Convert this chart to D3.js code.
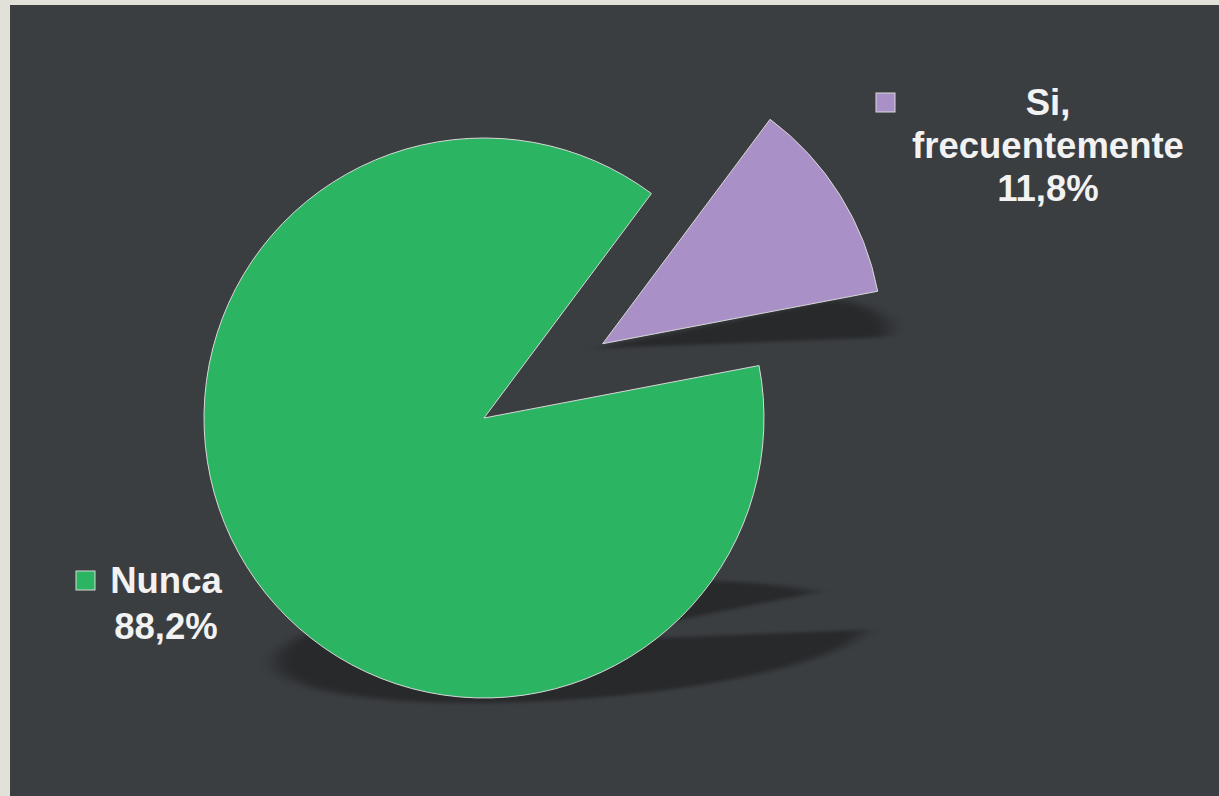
<!DOCTYPE html>
<html><head><meta charset="utf-8">
<script src="https://cdn.jsdelivr.net/npm/d3@7"></script>
<style>
html,body{margin:0;padding:0;background:#e1e1da;}
svg{display:block;}
</style></head>
<body>
<svg id="chart" width="1219" height="796"></svg>
<script>
const categories = ["Nunca", "Si, frecuentemente"];
const values = [88.2, 11.8];
const labelLines = [["Nunca"], ["Si,", "frecuentemente"]];
const colors = ["#2bb461", "#a991c8"];
const exploded = [0, 1];

const W = 1219, H = 796;
const svg = d3.select("#chart");
svg.append("rect").attr("x", 10).attr("y", 5).attr("width", W - 10).attr("height", H - 5).attr("fill", "#3b3e41");

const defs = svg.append("defs");
defs.append("filter").attr("id", "blur").attr("x", "-30%").attr("y", "-30%").attr("width", "160%").attr("height", "160%")
  .append("feGaussianBlur").attr("stdDeviation", 9);

const cx = 484, cy = 418, R = 280, explodeDist = 140;
const deg = Math.PI / 180;
const start = 79.2 * deg;
const pie = d3.pie().sort(null).startAngle(start).endAngle(start + 2 * Math.PI);
const arcs = pie(values);
const arc = d3.arc().innerRadius(0).outerRadius(R);

const shadowLayer = svg.append("g");
const sliceLayer = svg.append("g");

arcs.forEach((a, i) => {
  const mid = (a.startAngle + a.endAngle) / 2;
  const ox = exploded[i] ? Math.sin(mid) * explodeDist : 0;
  const oy = exploded[i] ? -Math.cos(mid) * explodeDist : 0;
  const tx = cx + ox, ty = cy + oy;
  const p = sliceLayer.append("path")
    .attr("d", arc(a))
    .attr("transform", `translate(${tx},${ty})`)
    .attr("fill", colors[i])
    .attr("stroke", "#d8d8d8")
    .attr("stroke-width", 1);
  const bb = p.node().getBBox();
  const y0 = ty + bb.y + bb.height;
  const s = 0.35, k = 0.22;
  shadowLayer.append("g")
    .attr("transform", `matrix(1,0,${-s},${k},${s * y0 - 10},${(1 - k) * y0 + 5})`)
    .attr("filter", "url(#blur)")
    .append("path")
    .attr("d", arc(a))
    .attr("transform", `translate(${tx},${ty})`)
    .attr("fill", "#000")
    .attr("fill-opacity", 0.34);
});

// labels
const font = "'Liberation Sans', Arial, sans-serif";
const fmt = v => String(v.toFixed(1)).replace(".", ",") + "%";
const labelPos = [
  { sqx: 76, sqy: 571, tx: 166, ty: 593 },
  { sqx: 876, sqy: 93, tx: 1048, ty: 115 }
];
categories.forEach((c, i) => {
  const lp = labelPos[i];
  svg.append("rect").attr("x", lp.sqx).attr("y", lp.sqy).attr("width", 19).attr("height", 19)
    .attr("fill", colors[i]).attr("stroke", "#d8d8d8").attr("stroke-width", 1);
  const lines = labelLines[i].concat([fmt(values[i])]);
  const t = svg.append("text").attr("font-family", font).attr("font-weight", "bold")
    .attr("font-size", 36.5).attr("fill", "#f2f2f2").attr("text-anchor", "middle");
  lines.forEach((ln, j) => {
    t.append("tspan").attr("x", lp.tx).attr("y", lp.ty + j * (i === 0 ? 46 : 43)).text(ln);
  });
});
</script>
</body></html>
